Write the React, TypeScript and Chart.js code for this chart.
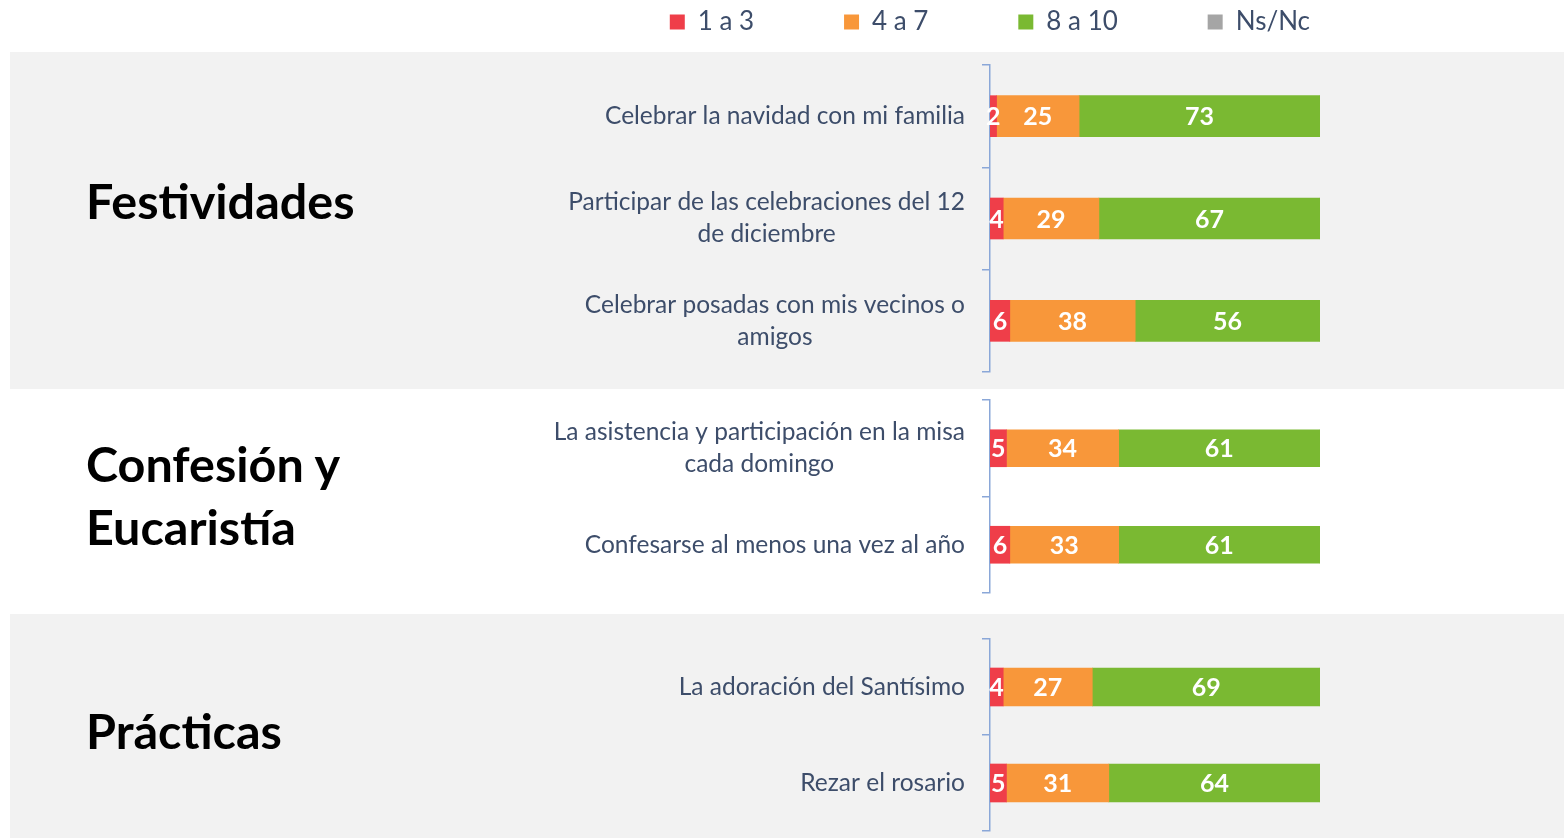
import React, { useEffect, useRef } from 'react';
import { Chart, registerables } from 'chart.js';

Chart.register(...registerables);
Chart.defaults.font.family = 'Lato';

// ---------- data ----------
const SERIES_NAMES = ['1 a 3', '4 a 7', '8 a 10', 'Ns/Nc'];
const SERIES_COLORS = ['#ef3e49', '#f8973a', '#7ab932', '#a5a5a5'];

const festLabels = [
  ['Celebrar la navidad con mi familia'],
  ['Participar de las celebraciones del 12', 'de diciembre'],
  ['Celebrar posadas con mis vecinos o', 'amigos'],
];
const fest1a3 = [2, 4, 6];
const fest4a7 = [25, 29, 38];
const fest8a10 = [73, 67, 56];
const festNsNc = [0, 0, 0];

const confLabels = [
  ['La asistencia y participación en la misa', 'cada domingo'],
  ['Confesarse al menos una vez al año'],
];
const conf1a3 = [5, 6];
const conf4a7 = [34, 33];
const conf8a10 = [61, 61];
const confNsNc = [0, 0];

const pracLabels = [['La adoración del Santísimo'], ['Rezar el rosario']];
const prac1a3 = [4, 5];
const prac4a7 = [27, 31];
const prac8a10 = [69, 64];
const pracNsNc = [0, 0];

const X_MIN = 0;
const X_MAX = 100;

// ---------- styles ----------
const AXIS_COLOR = '#8aa7d8';
const LABEL_COLOR = '#3d4d6a';
const BAND_COLOR = '#f2f2f2';
const LEGEND_GAP = '            ';

const valueLabels = {
  id: 'valueLabels',
  afterDatasetsDraw(chart: any) {
    const { ctx } = chart;
    ctx.save();
    ctx.font = 'bold 25px Lato';
    ctx.fillStyle = '#ffffff';
    ctx.textAlign = 'center';
    ctx.textBaseline = 'middle';
    chart.data.datasets.forEach((ds: any, i: number) => {
      const meta = chart.getDatasetMeta(i);
      if (meta.hidden) return;
      meta.data.forEach((el: any, j: number) => {
        const v = ds.data[j];
        if (!v) return;
        const { x, y, base } = el.getProps(['x', 'y', 'base'], true);
        ctx.fillText(String(v), (x + base) / 2, y + 1);
      });
    });
    ctx.restore();
  },
};

// Each category label block is right-aligned to the axis, its lines centred within the block.
const labelBlockAlign = {
  id: 'labelBlockAlign',
  beforeDraw(chart: any) {
    const s = chart.scales.y;
    if (!s || !s.getLabelItems) return;
    const items = s.getLabelItems(chart.chartArea);
    const sizes = s._getLabelSizes();
    const pad = s.options.ticks.padding + s.options.grid.tickLength;
    items.forEach((it: any, i: number) => {
      const w = sizes.widths[i];
      if (w === undefined) return;
      it.options.textAlign = 'center';
      it.options.translation = [s.right - pad - w / 2, it.options.translation[1]];
    });
  },
};

type PanelProps = {
  labels: string[][];
  series: number[][];
  padding: { left: number; right: number; top: number; bottom: number };
  barThickness: number;
  withLegend: boolean;
  spacer: number;
};

function BarPanel({ labels, series, padding, barThickness, withLegend, spacer }: PanelProps) {
  const ref = useRef<HTMLCanvasElement>(null);
  useEffect(() => {
    if (!ref.current) return;
    const chart = new Chart(ref.current, {
      type: 'bar',
      data: {
        labels,
        datasets: series.map((data, i) => ({
          label: SERIES_NAMES[i],
          data,
          backgroundColor: SERIES_COLORS[i],
          borderWidth: 0,
          barThickness,
        })),
      },
      options: {
        indexAxis: 'y',
        responsive: false,
        animation: false,
        layout: { padding },
        scales: {
          x: {
            stacked: true,
            min: X_MIN,
            max: X_MAX,
            position: 'top',
            display: withLegend,
            grid: { display: false },
            border: { display: false },
            ticks: { display: false },
            afterFit: (s: any) => {
              s.height = spacer;
            },
          },
          y: {
            stacked: true,
            grid: {
              display: true,
              drawOnChartArea: false,
              drawTicks: true,
              tickLength: 8,
              color: AXIS_COLOR,
              lineWidth: 1.5,
              offset: true,
            },
            border: { display: true, color: AXIS_COLOR, width: 1.5 },
            ticks: {
              color: LABEL_COLOR,
              font: { family: 'Lato', size: 24.5, lineHeight: 1.31 },
              padding: 17,
              crossAlign: 'center',
            },
            afterFit: (s: any) => {
              s.width = 490;
              s.paddingTop = 0;
              s.paddingBottom = 0;
            },
          },
        },
        plugins: {
          tooltip: { enabled: false },
          legend: {
            display: withLegend,
            position: 'top',
            align: 'end',
            labels: {
              boxWidth: 15,
              boxHeight: 15,
              padding: 10,
              color: LABEL_COLOR,
              font: { family: 'Lato', size: 26 },
              generateLabels: (c: any) => {
                const items = (Chart.defaults.plugins.legend.labels as any).generateLabels(c);
                return items.map((it: any, i: number) => ({
                  ...it,
                  lineWidth: 0,
                  text: i < items.length - 1 ? it.text + LEGEND_GAP : it.text,
                }));
              },
            },
          },
        },
      },
      plugins: [labelBlockAlign, valueLabels],
    } as any);
    return () => chart.destroy();
  }, []);
  return (
    <canvas
      ref={ref}
      width={1564}
      height={838}
      style={{ position: 'absolute', left: 0, top: 0, width: 1564, height: 838 }}
    />
  );
}

const groupStyle: React.CSSProperties = {
  position: 'absolute',
  left: 86,
  fontFamily: 'Lato',
  fontWeight: 700,
  fontSize: 48.5,
  color: '#000',
  whiteSpace: 'nowrap',
};

export default function App() {
  return (
    <div
      style={{
        position: 'absolute',
        left: 0,
        top: 0,
        width: 1564,
        height: 838,
        overflow: 'hidden',
        background: '#ffffff',
      }}
    >
      <div style={{ position: 'absolute', left: 10, top: 52, width: 1554, height: 337, background: BAND_COLOR }} />
      <div style={{ position: 'absolute', left: 10, top: 614, width: 1554, height: 224, background: BAND_COLOR }} />

      <div style={{ ...groupStyle, top: 171, lineHeight: 1.2 }}>Festividades</div>
      <div style={{ ...groupStyle, top: 432, lineHeight: '63px' }}>
        Confesión y
        <br />
        Eucaristía
      </div>
      <div style={{ ...groupStyle, top: 701, lineHeight: 1.2 }}>Prácticas</div>

      <BarPanel
        labels={festLabels}
        series={[fest1a3, fest4a7, fest8a10, festNsNc]}
        padding={{ left: 500, right: 244, top: -1, bottom: 466 }}
        barThickness={41}
        withLegend={true}
        spacer={20}
      />
      <BarPanel
        labels={confLabels}
        series={[conf1a3, conf4a7, conf8a10, confNsNc]}
        padding={{ left: 500, right: 244, top: 400, bottom: 245 }}
        barThickness={37}
        withLegend={false}
        spacer={0}
      />
      <BarPanel
        labels={pracLabels}
        series={[prac1a3, prac4a7, prac8a10, pracNsNc]}
        padding={{ left: 500, right: 244, top: 639, bottom: 7 }}
        barThickness={38}
        withLegend={false}
        spacer={0}
      />
    </div>
  );
}
